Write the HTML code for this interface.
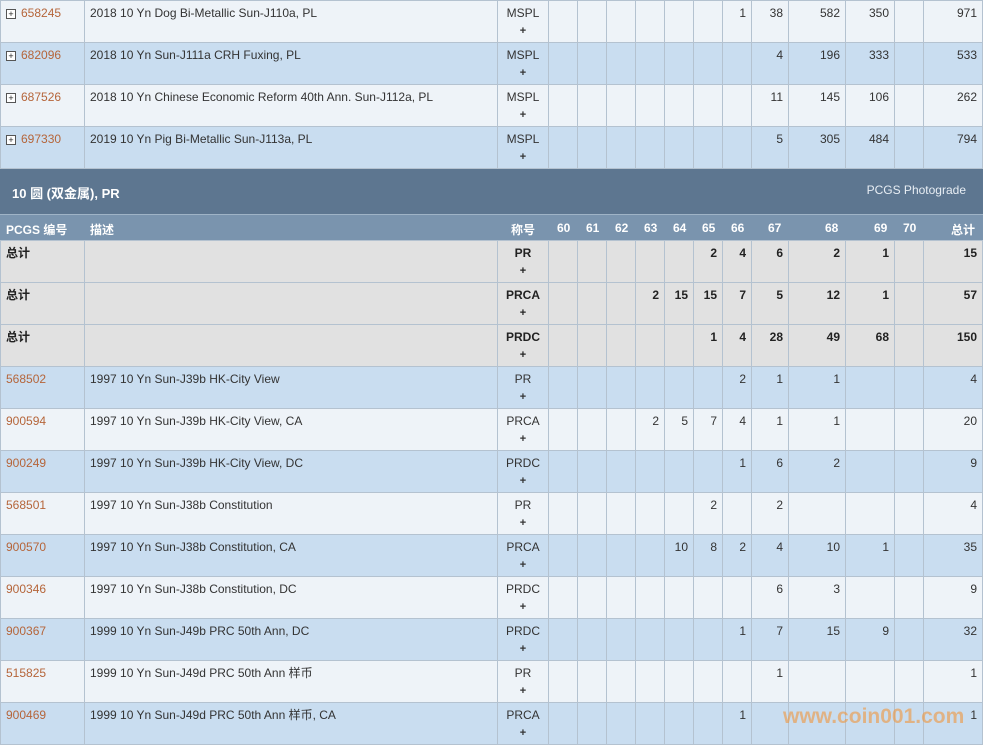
<!DOCTYPE html><html><head><meta charset="utf-8"><style>
body{margin:0;width:983px;height:744px;overflow:hidden;background:#eef3f8;font-family:"Liberation Sans","Noto Sans CJK SC",sans-serif;font-size:12px;color:#333}
table{border-collapse:collapse;table-layout:fixed;width:983px;position:absolute;left:0}
td{border:1px solid #b4c2d0;height:42px;padding:0 5px;vertical-align:top;line-height:16px;padding-top:4px;box-sizing:border-box;text-align:right;white-space:nowrap;overflow:hidden}
td.l{text-align:left}td.c{text-align:center}
tr.a td{background:#eef3f8}tr.b td{background:#c9ddf0}tr.g td{background:#e1e1e1;font-weight:bold;color:#222}
.p{display:block;font-size:11px;line-height:20px;font-weight:bold}
a{color:#b5653a;text-decoration:none}
.i{display:inline-block;width:8px;height:8px;border:1px solid #555;font-size:9px;line-height:8px;text-align:center;margin-right:5px;vertical-align:0;background:#fff;color:#222}
.ban{position:absolute;left:0;top:168px;width:983px;height:46px;background:#5d7690;border-top:1px solid #b4c2d0}
.hd{position:absolute;left:0;top:214px;width:983px;height:26px;background:#7a94ae;border-top:1px solid #9fb3c6;color:#fff;font-weight:bold}
.hd span{position:absolute;top:6px}
.wm{position:absolute;left:783px;top:705px;font:bold 21px "Liberation Sans",sans-serif;color:rgba(240,150,60,.6)}
</style></head><body>
<table style="top:0px"><colgroup><col style="width:84px"><col style="width:413px"><col style="width:51px"><col style="width:29px"><col style="width:29px"><col style="width:29px"><col style="width:29px"><col style="width:29px"><col style="width:29px"><col style="width:29px"><col style="width:37px"><col style="width:57px"><col style="width:49px"><col style="width:29px"><col style="width:59px"></colgroup>
<tr class="a"><td class="l"><span class="i">+</span><a>658245</a></td><td class="l">2018 10 Yn Dog Bi-Metallic Sun-J110a, PL</td><td class="c">MSPL<span class="p">+</span></td><td></td><td></td><td></td><td></td><td></td><td></td><td>1</td><td>38</td><td>582</td><td>350</td><td></td><td>971</td></tr>
<tr class="b"><td class="l"><span class="i">+</span><a>682096</a></td><td class="l">2018 10 Yn Sun-J111a CRH Fuxing, PL</td><td class="c">MSPL<span class="p">+</span></td><td></td><td></td><td></td><td></td><td></td><td></td><td></td><td>4</td><td>196</td><td>333</td><td></td><td>533</td></tr>
<tr class="a"><td class="l"><span class="i">+</span><a>687526</a></td><td class="l">2018 10 Yn Chinese Economic Reform 40th Ann. Sun-J112a, PL</td><td class="c">MSPL<span class="p">+</span></td><td></td><td></td><td></td><td></td><td></td><td></td><td></td><td>11</td><td>145</td><td>106</td><td></td><td>262</td></tr>
<tr class="b"><td class="l"><span class="i">+</span><a>697330</a></td><td class="l">2019 10 Yn Pig Bi-Metallic Sun-J113a, PL</td><td class="c">MSPL<span class="p">+</span></td><td></td><td></td><td></td><td></td><td></td><td></td><td></td><td>5</td><td>305</td><td>484</td><td></td><td>794</td></tr>
</table>
<div class="ban"><span style="position:absolute;left:12px;top:14px;color:#fff;font-weight:bold;font-size:13px">10 圆 (双金属), PR</span><span style="position:absolute;right:17px;top:14px;color:#e8eef4;font-size:12px">PCGS Photograde</span></div>
<div class="hd"><span style="left:6px">PCGS 编号</span><span style="left:90px">描述</span><span style="left:511px">称号</span><span style="left:557px">60</span><span style="left:586px">61</span><span style="left:615px">62</span><span style="left:644px">63</span><span style="left:673px">64</span><span style="left:702px">65</span><span style="left:731px">66</span><span style="left:768px">67</span><span style="left:825px">68</span><span style="left:874px">69</span><span style="left:903px">70</span><span style="left:951px">总计</span></div>
<table style="top:240px"><colgroup><col style="width:84px"><col style="width:413px"><col style="width:51px"><col style="width:29px"><col style="width:29px"><col style="width:29px"><col style="width:29px"><col style="width:29px"><col style="width:29px"><col style="width:29px"><col style="width:37px"><col style="width:57px"><col style="width:49px"><col style="width:29px"><col style="width:59px"></colgroup>
<tr class="g"><td class="l">总计</td><td></td><td class="c">PR<span class="p">+</span></td><td></td><td></td><td></td><td></td><td></td><td>2</td><td>4</td><td>6</td><td>2</td><td>1</td><td></td><td>15</td></tr>
<tr class="g"><td class="l">总计</td><td></td><td class="c">PRCA<span class="p">+</span></td><td></td><td></td><td></td><td>2</td><td>15</td><td>15</td><td>7</td><td>5</td><td>12</td><td>1</td><td></td><td>57</td></tr>
<tr class="g"><td class="l">总计</td><td></td><td class="c">PRDC<span class="p">+</span></td><td></td><td></td><td></td><td></td><td></td><td>1</td><td>4</td><td>28</td><td>49</td><td>68</td><td></td><td>150</td></tr>
<tr class="b"><td class="l"><a>568502</a></td><td class="l">1997 10 Yn Sun-J39b HK-City View</td><td class="c">PR<span class="p">+</span></td><td></td><td></td><td></td><td></td><td></td><td></td><td>2</td><td>1</td><td>1</td><td></td><td></td><td>4</td></tr>
<tr class="a"><td class="l"><a>900594</a></td><td class="l">1997 10 Yn Sun-J39b HK-City View, CA</td><td class="c">PRCA<span class="p">+</span></td><td></td><td></td><td></td><td>2</td><td>5</td><td>7</td><td>4</td><td>1</td><td>1</td><td></td><td></td><td>20</td></tr>
<tr class="b"><td class="l"><a>900249</a></td><td class="l">1997 10 Yn Sun-J39b HK-City View, DC</td><td class="c">PRDC<span class="p">+</span></td><td></td><td></td><td></td><td></td><td></td><td></td><td>1</td><td>6</td><td>2</td><td></td><td></td><td>9</td></tr>
<tr class="a"><td class="l"><a>568501</a></td><td class="l">1997 10 Yn Sun-J38b Constitution</td><td class="c">PR<span class="p">+</span></td><td></td><td></td><td></td><td></td><td></td><td>2</td><td></td><td>2</td><td></td><td></td><td></td><td>4</td></tr>
<tr class="b"><td class="l"><a>900570</a></td><td class="l">1997 10 Yn Sun-J38b Constitution, CA</td><td class="c">PRCA<span class="p">+</span></td><td></td><td></td><td></td><td></td><td>10</td><td>8</td><td>2</td><td>4</td><td>10</td><td>1</td><td></td><td>35</td></tr>
<tr class="a"><td class="l"><a>900346</a></td><td class="l">1997 10 Yn Sun-J38b Constitution, DC</td><td class="c">PRDC<span class="p">+</span></td><td></td><td></td><td></td><td></td><td></td><td></td><td></td><td>6</td><td>3</td><td></td><td></td><td>9</td></tr>
<tr class="b"><td class="l"><a>900367</a></td><td class="l">1999 10 Yn Sun-J49b PRC 50th Ann, DC</td><td class="c">PRDC<span class="p">+</span></td><td></td><td></td><td></td><td></td><td></td><td></td><td>1</td><td>7</td><td>15</td><td>9</td><td></td><td>32</td></tr>
<tr class="a"><td class="l"><a>515825</a></td><td class="l">1999 10 Yn Sun-J49d PRC 50th Ann 样币</td><td class="c">PR<span class="p">+</span></td><td></td><td></td><td></td><td></td><td></td><td></td><td></td><td>1</td><td></td><td></td><td></td><td>1</td></tr>
<tr class="b"><td class="l"><a>900469</a></td><td class="l">1999 10 Yn Sun-J49d PRC 50th Ann 样币, CA</td><td class="c">PRCA<span class="p">+</span></td><td></td><td></td><td></td><td></td><td></td><td></td><td>1</td><td></td><td></td><td></td><td></td><td>1</td></tr>
</table>
<div class="wm">www.coin001.com</div>
</body></html>
